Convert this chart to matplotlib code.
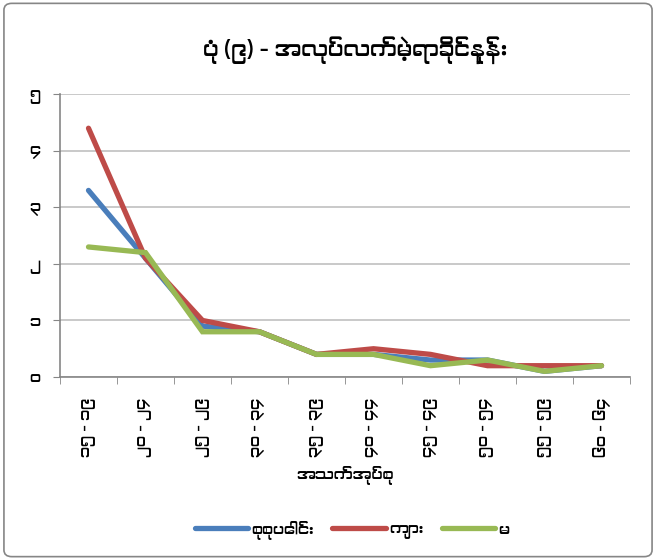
"""Line chart: unemployment rate by age group (Myanmar)."""

import matplotlib
matplotlib.use("Agg")
import matplotlib.pyplot as plt
from matplotlib import font_manager
from matplotlib.patches import FancyBboxPatch
import numpy as np

# Data
age_groups = ["၁၅ - ၁၉", "၂၀ - ၂၄", "၂၅ - ၂၉", "၃၀ - ၃၄", "၃၅ - ၃၉",
              "၄၀ - ၄၄", "၄၅ - ၄၉", "၅၀ - ၅၄", "၅၅ - ၅၉", "၆၀ - ၆၄"]
total = [3.3, 2.1, 0.9, 0.8, 0.4, 0.4, 0.3, 0.3, 0.1, 0.2]
male = [4.4, 2.1, 1.0, 0.8, 0.4, 0.5, 0.4, 0.2, 0.2, 0.2]
female = [2.3, 2.2, 0.8, 0.8, 0.4, 0.4, 0.2, 0.3, 0.1, 0.2]
series_names = ["စုစုပေါင်း", "ကျား", "မ"]
y_ticks = [0, 1, 2, 3, 4, 5]
y_tick_labels = ["၀", "၁", "၂", "၃", "၄", "၅"]
title = "ပုံ (၉) - အလုပ်လက်မဲ့ရာခိုင်နှုန်း"
x_label = "အသက်အုပ်စု"

# Myanmar Khyay lays out Burmese without needing text shaping
installed = {f.name for f in font_manager.fontManager.ttflist}
families = [f for f in ["Myanmar Khyay", "DejaVu Sans"] if f in installed]
plt.rcParams["font.family"] = families

fig = plt.figure(figsize=(6.56, 5.6), dpi=100)
ax = fig.add_axes([60 / 656, 1 - 377 / 560, 570 / 656, (377 - 94.3) / 560])

# Chart area border
fig.patches.append(FancyBboxPatch(
    (0.006, 0.006), 0.988, 0.988, boxstyle="round,pad=0,rounding_size=0.012",
    transform=fig.transFigure, fill=False, edgecolor="#868686", linewidth=1.2))

x = np.arange(len(age_groups))
colors = ["#4a7ebb", "#be4b48", "#98b954"]
for values, name, color in zip([total, male, female], series_names, colors):
    ax.plot(x, values, color=color, linewidth=3.8, label=name,
            solid_capstyle="round", solid_joinstyle="miter")

ax.set_xlim(-0.5, len(age_groups) - 0.5)
ax.set_ylim(0, 5)
ax.set_yticks(y_ticks)
ax.set_yticklabels(y_tick_labels, fontsize=11)
ax.set_xticks(x)
ax.set_xticklabels(age_groups, rotation=90, fontsize=11)
ax.set_xticks(np.arange(-0.5, len(age_groups)), minor=True)
ax.tick_params(axis="x", which="major", length=0, pad=15)
ax.tick_params(axis="x", which="minor", length=5, color="#868686")
ax.tick_params(axis="y", length=5, color="#868686", pad=9.5)

ax.grid(axis="y", color="#c0c0c0", linewidth=1.2)
ax.set_axisbelow(True)
for side in ["top", "right"]:
    ax.spines[side].set_visible(False)
for side in ["left", "bottom"]:
    ax.spines[side].set_color("#868686")
    ax.spines[side].set_linewidth(1.2)

ax.set_xlabel(x_label, fontsize=11, labelpad=6)
fig.text(355 / 656, 1 - 50 / 560, title, ha="center", va="center",
         fontsize=15.5, fontweight="bold")

fig.legend(loc="center", bbox_to_anchor=(352 / 656, 1 - 530 / 560), ncol=3,
           frameon=False, fontsize=11, handlelength=3.5, handletextpad=0.2,
           columnspacing=1.2)

plt.savefig("out.png", dpi=100)
plt.close(fig)
